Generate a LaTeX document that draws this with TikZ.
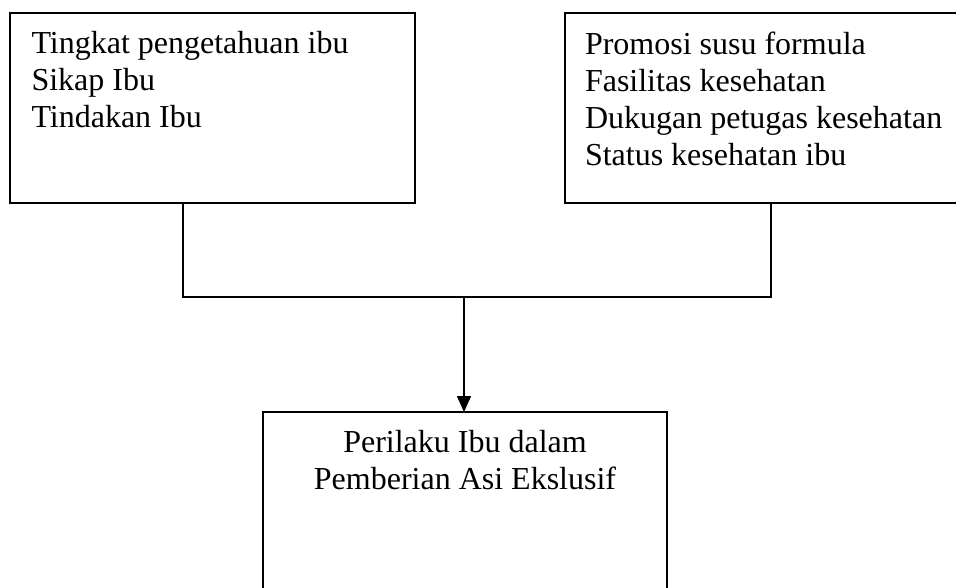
\documentclass[tikz,border=0pt]{standalone}
\usepackage{fontspec}
\setmainfont{Liberation Serif}
\usetikzlibrary{arrows.meta}
\begin{document}
\begin{tikzpicture}[x=0.75pt,y=-0.75pt,
  boxstyle/.style={draw=black, line width=1.3pt, rectangle, anchor=north west, outer sep=0pt, inner sep=0pt},
  txtstyle/.style={inner sep=0pt, outer sep=0pt, font=\fontsize{24}{27.75}\selectfont},
  linkstyle/.style={draw=black, line width=1.3pt},
]
\clip (0,0) rectangle (956,588);
\fill[white] (0,0) rectangle (956,588);
% boxes
\node[boxstyle, minimum width=303.75pt, minimum height=142.5pt] (L) at (10,13) {};
\node[boxstyle, minimum width=294.75pt, minimum height=142.5pt] (R) at (565,13) {};
\node[boxstyle, minimum width=303pt, minimum height=141pt] (B) at (263,412) {};
% texts
\node[txtstyle, anchor=north west, align=left] (Lt) at (31.5,31) {Tingkat pengetahuan ibu\\Sikap Ibu\\Tindakan Ibu};
\node[txtstyle, anchor=north west, align=left] (Rt) at (585,32) {Promosi susu formula\\Fasilitas kesehatan\\Dukugan petugas kesehatan\\Status kesehatan ibu};
\node[txtstyle, anchor=north, align=center] (Bt) at (465,430) {Perilaku Ibu dalam\\Pemberian Asi Ekslusif};
% junction points
\coordinate (jl) at (183,297);
\coordinate (jr) at (771,297);
\coordinate (jm) at (464,297);
\draw[linkstyle, line join=miter] (jl |- L.south) -- (jl) -- (jr) -- (jr |- R.south);
\draw[linkstyle, -{Triangle[length=12pt,width=10.5pt]}] (jm) -- (jm |- B.north);
\end{tikzpicture}
\end{document}
